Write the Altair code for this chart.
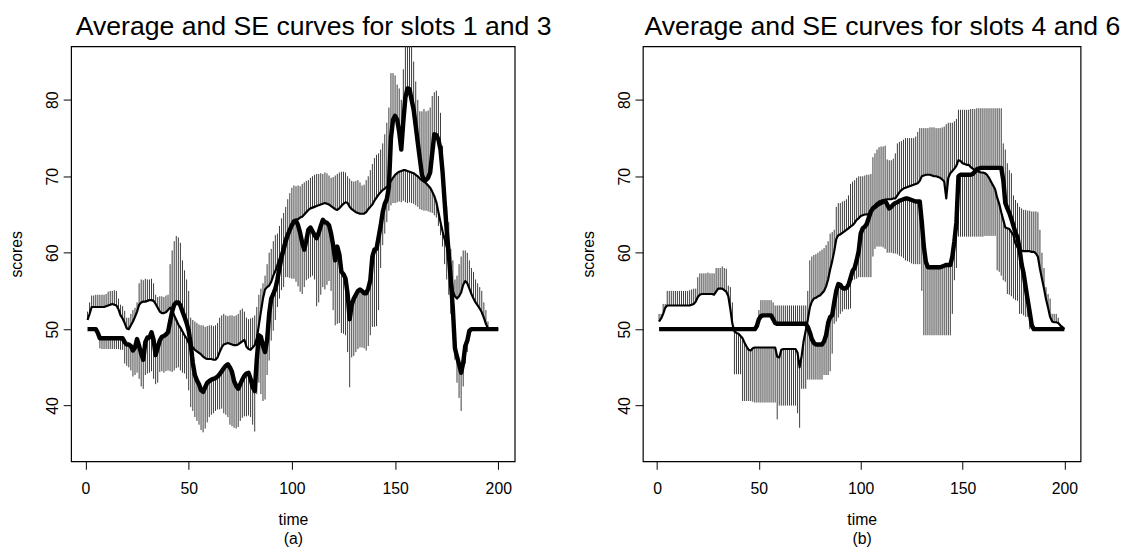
import altair as alt
import pandas as pd

T = list(range(1, 201))

# ---------------- panel (a): slots 1 (thin) and 3 (thick) ----------------
a_thin = [
    51.2, 52.0, 52.9, 52.9, 52.9, 52.9, 52.9, 52.9, 52.9, 53.0,
    53.1, 53.2, 53.3, 53.2, 53.1, 52.6, 51.8, 51.4, 50.8, 50.1,
    50.0, 50.5, 51.0, 51.6, 52.3, 53.2, 53.5, 53.6, 53.6, 53.7,
    53.8, 53.8, 53.7, 53.3, 52.8, 52.3, 52.1, 52.1, 52.2, 52.5,
    52.8, 52.5, 51.8, 51.2, 50.6, 50.2, 49.7, 49.2, 48.8, 48.2,
    47.9, 47.6, 47.3, 47.1, 46.9, 46.7, 46.4, 46.2, 46.1, 46.1,
    46.1, 46.0, 46.0, 46.3, 47.0, 47.6, 48.0, 48.1, 48.2, 48.1,
    48.0, 47.9, 47.9, 48.0, 48.2, 48.4, 48.6, 47.7, 47.4, 47.3,
    47.6, 47.9, 48.8, 50.5, 52.3, 54.0, 55.2, 55.5, 55.7, 56.2,
    57.0, 57.6, 58.4, 59.2, 60.0, 61.0, 62.0, 62.6, 63.1, 63.5,
    63.9, 64.2, 64.4, 64.6, 64.7, 65.0, 65.3, 65.6, 65.8, 65.9,
    66.0, 66.1, 66.2, 66.3, 66.4, 66.5, 66.4, 66.3, 66.1, 65.9,
    65.7, 65.6, 65.8, 66.1, 66.4, 66.6, 66.5, 66.0, 65.7, 65.5,
    65.3, 65.2, 65.1, 65.1, 65.1, 65.3, 65.7, 66.0, 66.3, 66.8,
    67.2, 67.6, 67.9, 68.2, 68.4, 68.6, 68.9, 69.4, 69.8, 70.2,
    70.4, 70.6, 70.7, 70.8, 70.8, 70.7, 70.6, 70.5, 70.4, 70.2,
    70.0, 69.7, 69.5, 69.3, 69.1, 68.8, 68.5, 68.0, 67.4, 66.6,
    65.3, 64.0, 62.8, 61.8, 60.8, 59.4, 57.3, 55.0, 54.3, 54.0,
    54.3, 54.8, 55.8, 56.3, 56.0, 55.3, 54.6, 54.0, 53.5, 53.1,
    52.7, 52.2, 51.5, 50.7, 50.1, 50.0, 50.0, 50.0, 50.0, 50.0,
]
a_thick = [
    50.0, 50.0, 50.0, 50.0, 50.0, 49.5, 48.8, 48.8, 48.8, 48.8,
    48.8, 48.8, 48.8, 48.8, 48.8, 48.8, 48.8, 48.8, 48.3, 48.0,
    48.0, 47.8, 47.2, 47.6, 48.7, 47.8, 46.8, 46.0, 48.3, 48.9,
    48.9, 49.6, 48.6, 46.6, 47.6, 48.5, 49.0, 49.1, 49.3, 49.6,
    51.0, 52.3, 53.2, 53.5, 53.5, 53.1, 52.3, 51.6, 50.8, 49.8,
    48.0, 45.6, 44.0, 43.3, 42.8, 42.0, 41.8, 42.4, 43.0, 43.2,
    43.4, 43.5, 43.6, 43.8, 44.1, 44.5, 44.9, 45.2, 45.4, 45.0,
    44.4, 43.2, 42.6, 42.2, 42.8, 43.4, 43.9, 44.2, 44.3, 43.5,
    42.4, 41.9, 46.0, 49.2, 49.0, 47.8, 47.0, 48.6, 52.0, 54.0,
    54.6, 55.3, 56.5, 58.0, 59.4, 60.4, 61.5, 62.3, 63.0, 63.6,
    64.1, 64.2, 63.6, 62.6, 61.3, 60.4, 61.6, 63.0, 63.3, 62.8,
    62.3, 61.9, 62.6, 63.5, 64.3, 64.0, 63.9, 63.6, 62.5, 61.0,
    59.0, 60.8, 59.8, 57.5, 57.2, 56.6, 54.6, 51.3, 53.2, 54.0,
    54.5, 55.0, 55.2, 55.0, 54.7, 54.7, 55.3, 56.4, 59.5, 60.4,
    60.5, 62.0, 63.5, 65.3, 66.4, 67.0, 68.6, 75.0, 77.4, 77.9,
    77.4, 75.8, 73.5, 77.2, 80.3, 81.5, 81.4, 80.0, 78.7, 76.6,
    74.4, 72.3, 70.2, 69.5, 69.5, 69.8, 70.5, 73.0, 75.5, 75.4,
    74.8, 73.5, 70.6, 66.7, 63.0, 59.9, 56.4, 52.6, 47.5, 46.4,
    45.4, 44.3, 45.6, 47.8, 48.5, 49.8, 50.0, 50.0, 50.0, 50.0,
    50.0, 50.0, 50.0, 50.0, 50.0, 50.0, 50.0, 50.0, 50.0, 50.0,
]
a_top = [
    52.3, 53.5, 54.4, 54.4, 54.5, 54.5, 54.5, 54.5, 54.5, 54.6,
    54.9, 55.0, 55.0, 55.1, 55.0, 54.0, 53.2, 53.0, 52.4, 51.5,
    51.5, 52.0, 52.5, 52.8, 53.5, 56.0, 56.5, 56.4, 56.6, 56.5,
    56.5, 56.6, 56.0, 54.5, 54.2, 54.3, 54.3, 54.2, 54.4, 54.5,
    58.5, 60.3, 61.5, 62.2, 62.0, 61.3, 59.0, 57.7, 56.5, 55.0,
    51.5, 51.2, 51.0, 50.8, 50.6, 50.5, 50.5, 50.3, 50.4, 50.5,
    50.5, 50.4, 50.5, 50.8, 51.5, 51.8, 52.0, 51.8, 51.7, 51.8,
    51.8, 51.7, 51.8, 52.0, 52.5, 52.7, 52.3, 51.5, 51.3, 51.4,
    51.5, 51.8, 52.9, 54.5, 55.3, 56.0, 57.0, 58.5, 60.0, 60.5,
    61.5, 62.3, 62.5, 63.5, 64.5, 65.2, 66.0, 67.0, 67.8, 68.5,
    68.8, 68.7, 68.8, 68.7, 69.0, 69.2, 69.4, 69.5, 69.8, 70.0,
    70.2, 70.3, 70.3, 70.4, 70.3, 70.5, 70.4, 70.1, 69.8, 69.9,
    70.1, 70.3, 70.5, 70.6, 70.6, 70.5, 70.0, 69.7, 69.4, 69.3,
    69.4, 69.5, 69.2, 68.8, 68.9, 69.5, 70.0, 70.8, 71.6, 72.4,
    72.8, 73.0, 73.5, 74.3, 75.5, 77.0, 79.0, 83.5, 83.5, 83.2,
    82.0, 81.5, 80.0, 84.0, 87.5, 88.0, 88.0, 87.0, 85.0, 82.4,
    80.0, 78.5, 78.5, 78.8, 78.5, 78.6, 79.0, 80.5, 81.0, 81.2,
    80.5, 78.3, 74.0, 68.0, 66.0, 64.0, 60.5, 59.0, 56.5, 57.0,
    58.5, 59.5, 60.3, 60.3, 60.0, 59.0, 58.0, 57.5, 56.5, 56.0,
    55.5, 55.0, 53.5, 52.5, 51.0, 50.0, 50.0, 50.0, 50.0, 50.0,
]
a_bot = [
    50.0, 50.0, 50.0, 50.0, 50.0, 49.0, 47.5, 47.4, 47.4, 47.4,
    47.4, 47.4, 47.4, 47.4, 47.4, 47.4, 47.3, 47.3, 45.5, 45.2,
    45.0, 44.6, 43.8, 44.0, 44.3, 43.5, 42.5, 42.2, 44.0, 44.2,
    44.3, 44.5, 43.5, 42.8, 43.0, 44.4, 44.5, 44.3, 44.5, 44.6,
    44.5, 44.4, 44.6, 44.9, 45.0, 44.6, 44.3, 44.2, 43.5, 42.0,
    39.8, 39.3, 38.5, 38.0, 37.5, 36.8, 36.5, 37.0, 37.8, 38.5,
    38.8, 39.0, 39.3, 39.5, 39.5, 39.6, 39.0, 38.8, 38.5, 37.5,
    37.3, 37.1, 37.0, 37.2, 38.0, 38.4, 38.6, 38.6, 38.7, 38.5,
    37.5, 36.6, 41.5, 43.0, 41.5, 40.6, 40.8, 44.0, 45.9, 48.5,
    49.8, 51.2, 52.9, 54.0, 55.1, 55.5, 56.8, 56.8, 56.7, 56.6,
    56.6, 56.2, 55.6, 54.9, 54.6, 55.5, 56.4, 56.6, 56.8, 57.0,
    56.5, 53.0, 53.5, 54.5, 55.5, 55.2, 55.8, 56.3, 55.0, 52.5,
    50.5, 50.7, 50.8, 49.5, 49.4, 49.2, 47.0, 42.4, 46.3, 46.5,
    47.0, 47.4, 47.6, 47.6, 47.5, 47.2, 47.8, 49.2, 50.3, 50.3,
    50.4, 52.5, 58.0, 61.0, 62.5, 64.0, 65.5, 66.2, 66.5, 66.5,
    66.6, 66.7, 66.6, 66.8, 66.6, 66.5, 66.6, 66.5, 66.4, 66.2,
    66.0, 65.7, 65.6, 65.5, 65.5, 65.4, 65.3, 65.2, 64.9, 64.6,
    63.5, 62.3, 60.8, 58.5, 56.5, 54.5, 52.0, 49.5, 46.0, 43.0,
    41.0, 39.3, 42.5, 45.5, 47.0, 49.2, 50.0, 50.0, 50.0, 50.0,
    50.0, 50.0, 50.0, 50.0, 50.0, 50.0, 50.0, 50.0, 50.0, 50.0,
]

# ---------------- panel (b): slots 4 (thin) and 6 (thick) ----------------
b_thin = [
    51.0, 51.4, 52.0, 52.8, 53.1, 53.1, 53.1, 53.1, 53.1, 53.1,
    53.1, 53.1, 53.1, 53.1, 53.1, 53.1, 53.2, 53.3, 53.6, 54.2,
    54.5, 54.6, 54.6, 54.6, 54.6, 54.6, 54.6, 54.5, 54.9, 55.3,
    55.3, 55.3, 55.1, 54.9, 54.3, 52.6, 50.7, 49.7, 49.5, 49.4,
    49.1, 48.8, 48.2, 47.7, 47.3, 47.2, 47.5, 47.6, 47.6, 47.6,
    47.6, 47.6, 47.6, 47.6, 47.6, 47.6, 47.6, 47.6, 46.4, 46.3,
    47.3, 47.4, 47.4, 47.4, 47.4, 47.4, 47.4, 47.4, 46.9, 45.0,
    46.5, 48.5, 49.8, 51.2, 52.8, 53.6, 54.0, 54.1, 54.3, 54.4,
    54.7, 55.0, 55.6, 56.5, 57.8, 58.9, 60.2, 61.8, 62.3, 62.4,
    62.6, 62.8, 63.0, 63.2, 63.4, 63.6, 63.9, 64.3, 64.5, 64.8,
    64.9, 65.0, 65.0, 65.1, 65.3, 65.7, 66.2, 66.5, 66.7, 66.8,
    66.9, 66.9, 67.0, 67.0, 67.0, 67.1, 67.1, 67.5, 67.9, 68.2,
    68.4, 68.5, 68.6, 68.7, 68.8, 68.9, 69.0, 69.1, 69.4, 70.0,
    70.1, 70.2, 70.2, 70.2, 70.1, 70.0, 70.0, 69.9, 69.8, 69.6,
    69.3, 67.1, 69.8, 70.4, 70.7, 71.0, 71.4, 72.1, 72.0, 71.7,
    71.6, 71.5, 71.5, 71.2, 71.0, 70.8, 70.7, 70.6, 70.5, 70.5,
    70.4, 70.2, 69.8, 69.3, 68.8, 68.3, 67.2, 66.4, 65.3, 64.3,
    63.3, 63.2, 63.1, 62.7, 62.3, 61.2, 60.7, 60.3, 60.3, 60.2,
    60.2, 60.2, 60.2, 60.1, 60.1, 59.9, 59.5, 57.9, 56.6, 55.3,
    53.9, 52.8, 51.6, 51.0, 50.9, 50.9, 50.8, 50.5, 50.3, 50.0,
]
b_thick = [
    50.0, 50.0, 50.0, 50.0, 50.0, 50.0, 50.0, 50.0, 50.0, 50.0,
    50.0, 50.0, 50.0, 50.0, 50.0, 50.0, 50.0, 50.0, 50.0, 50.0,
    50.0, 50.0, 50.0, 50.0, 50.0, 50.0, 50.0, 50.0, 50.0, 50.0,
    50.0, 50.0, 50.0, 50.0, 50.0, 50.0, 50.0, 50.0, 50.0, 50.0,
    50.0, 50.0, 50.0, 50.0, 50.0, 50.0, 50.0, 50.0, 50.4, 51.3,
    51.7, 51.8, 51.8, 51.8, 51.8, 51.8, 51.3, 50.8, 50.7, 50.7,
    50.7, 50.7, 50.7, 50.7, 50.7, 50.7, 50.7, 50.7, 50.7, 50.7,
    50.7, 50.7, 50.7, 50.3, 49.6, 48.7, 48.2, 48.0, 48.0, 48.0,
    48.0, 48.4, 49.2, 50.8, 51.6, 51.8, 53.5, 55.0, 55.9, 55.8,
    55.4, 55.3, 55.4, 55.8, 56.7, 57.6, 58.0, 59.0, 60.2, 62.5,
    63.2, 63.4, 63.8, 64.6, 65.4, 65.8, 66.0, 66.2, 66.4, 66.5,
    66.7, 66.8, 66.3, 65.8, 66.0, 66.3, 66.5, 66.6, 66.8, 66.9,
    67.0, 67.1, 67.1, 67.0, 66.9, 66.8, 66.7, 66.7, 66.7, 64.0,
    60.8, 58.8, 58.1, 58.1, 58.1, 58.1, 58.1, 58.1, 58.1, 58.2,
    58.3, 58.4, 58.4, 58.4, 59.5, 61.5, 64.0, 70.0, 70.2, 70.2,
    70.2, 70.2, 70.2, 70.2, 70.3, 70.6, 70.9, 71.0, 71.1, 71.1,
    71.1, 71.1, 71.1, 71.1, 71.1, 71.1, 71.1, 71.1, 71.1, 69.5,
    66.5, 65.8, 65.2, 64.4, 63.5, 62.6, 62.0, 60.5, 58.5, 57.3,
    55.5, 53.8, 52.2, 50.5, 50.0, 50.0, 50.0, 50.0, 50.0, 50.0,
    50.0, 50.0, 50.0, 50.0, 50.0, 50.0, 50.0, 50.0, 50.0, 50.0,
]
b_top = [
    52.0, 52.0, 53.3, 53.3, 55.0, 55.0, 55.0, 55.0, 55.0, 55.0,
    55.0, 55.0, 55.0, 55.0, 55.0, 55.1, 55.2, 55.3, 55.3, 56.8,
    57.3, 57.3, 57.3, 57.3, 57.4, 57.3, 57.3, 57.3, 58.0, 58.0,
    58.0, 58.2, 58.0, 57.9, 55.7, 55.5, 53.5, 50.0, 50.0, 50.0,
    50.0, 50.0, 50.0, 50.0, 50.0, 50.0, 50.0, 50.0, 51.0, 52.5,
    53.8, 53.8, 53.8, 53.8, 53.8, 53.8, 53.5, 53.1, 53.1, 53.1,
    53.1, 53.1, 53.1, 53.1, 53.1, 53.1, 53.1, 53.1, 53.1, 53.1,
    53.1, 53.1, 53.1, 55.0, 59.0, 59.5, 59.7, 59.8, 60.0, 60.2,
    60.4, 60.6, 61.0, 61.5, 62.5, 62.7, 63.0, 66.0, 66.5, 66.5,
    66.7, 66.8, 67.0, 67.5, 69.0, 69.3, 69.5, 69.8, 70.0, 70.0,
    70.0, 70.1, 70.2, 70.2, 70.3, 72.5, 73.0, 73.5, 73.8, 73.9,
    73.9, 74.0, 72.2, 72.1, 72.1, 72.3, 73.0, 74.3, 74.5, 74.6,
    74.8, 75.0, 75.0, 75.0, 75.0, 75.0, 75.2, 75.8, 76.3, 76.3,
    76.3, 76.3, 76.3, 76.4, 76.4, 76.4, 76.3, 76.3, 76.3, 76.4,
    76.5, 76.8, 77.0, 77.0, 77.0, 77.2, 77.5, 78.7, 78.7, 78.7,
    78.7, 78.7, 78.7, 78.8, 78.8, 78.8, 78.9, 78.9, 78.9, 78.9,
    78.9, 78.9, 78.9, 78.9, 78.9, 78.9, 78.9, 78.9, 78.9, 74.3,
    73.5, 71.7, 70.8, 70.4, 67.5, 66.9, 66.5, 66.0, 65.8, 65.6,
    65.6, 65.5, 65.5, 65.4, 65.4, 65.4, 65.3, 63.0, 60.0, 58.0,
    55.5, 54.6, 54.0, 52.0, 52.0, 52.0, 51.5, 50.0, 50.0, 50.0,
]
b_bot = [
    50.0, 50.0, 50.0, 50.0, 50.0, 50.0, 50.0, 50.0, 50.0, 50.0,
    50.0, 50.0, 50.0, 50.0, 50.0, 50.0, 50.0, 50.0, 50.0, 50.0,
    50.0, 50.0, 50.0, 50.0, 50.0, 50.0, 50.0, 50.0, 50.0, 50.0,
    50.0, 50.0, 50.0, 50.0, 50.0, 50.0, 50.0, 44.1, 44.1, 44.1,
    44.1, 40.6, 40.6, 40.6, 40.6, 40.6, 40.5, 40.4, 40.4, 40.4,
    40.4, 40.4, 40.4, 40.4, 40.4, 40.4, 40.4, 40.4, 38.2, 40.0,
    40.0, 40.0, 40.0, 40.0, 40.0, 40.0, 40.0, 40.0, 39.0, 37.1,
    42.2, 42.2, 42.2, 43.4, 43.4, 43.4, 43.4, 43.4, 43.4, 43.4,
    43.4, 44.0, 44.0, 44.0, 44.5, 46.8, 50.7, 51.0, 51.5, 52.0,
    52.3, 52.6, 52.6, 52.6, 52.7, 56.4, 56.5, 56.6, 56.8, 56.8,
    56.8, 56.8, 56.8, 56.8, 56.8, 59.5, 60.5, 60.8, 60.8, 60.8,
    60.7, 60.5, 60.0, 60.0, 60.0, 59.9, 59.9, 59.8, 59.6, 59.5,
    59.3, 59.0, 58.9, 58.8, 58.6, 58.5, 58.5, 58.5, 58.5, 55.0,
    49.2, 49.2, 49.2, 49.2, 49.2, 49.2, 49.2, 49.2, 49.2, 49.2,
    49.2, 49.2, 49.2, 49.2, 52.0, 56.4, 58.0, 62.1, 62.1, 62.1,
    62.1, 62.1, 62.1, 62.1, 62.1, 62.1, 62.1, 62.1, 62.1, 62.1,
    62.2, 62.2, 62.2, 62.2, 62.2, 62.2, 57.7, 57.5, 57.0, 56.4,
    56.2, 54.6, 54.5, 54.3, 54.0, 53.8, 53.7, 52.0, 52.0, 51.8,
    51.6, 51.6, 50.0, 50.0, 50.0, 50.0, 50.0, 50.0, 50.0, 50.0,
    50.0, 50.0, 50.0, 50.0, 50.0, 50.0, 50.0, 50.0, 50.0, 50.0,
]

X_TICKS = [0, 50, 100, 150, 200]
Y_TICKS = [40, 50, 60, 70, 80]
FONT = "Liberation Sans"


def panel(thin, thick, top, bot, title, sub, width):
    df = pd.DataFrame({
        "t": T,
        "thin": thin,
        "thick": thick,
        "hs": [max(a, b) for a, b in zip(thin, thick)],
        "he": top,
        "ls": [min(a, b) for a, b in zip(thin, thick)],
        "le": bot,
    })
    xs = alt.Scale(domain=[-6.96, 207.96], nice=False, zero=False)
    ys = alt.Scale(domain=[32.7, 87.0], nice=False, zero=False)
    xax = alt.Axis(values=X_TICKS, title=["time", sub], grid=False, domain=False,
                   tickSize=8, tickColor="black", labelFontSize=16, titleFontSize=16,
                   labelFont=FONT, titleFont=FONT, titleFontWeight="normal",
                   labelColor="black", titleColor="black", labelPadding=12,
                   titlePadding=15, titleLineHeight=19, labelFlush=False)
    yax = alt.Axis(values=Y_TICKS, title="scores", grid=False, domain=False,
                   tickSize=8, tickColor="black", labelFontSize=16, titleFontSize=16,
                   labelFont=FONT, titleFont=FONT, titleFontWeight="normal",
                   labelColor="black", titleColor="black", labelAngle=270,
                   labelAlign="center", labelBaseline="bottom", labelPadding=3,
                   titlePadding=20, labelFlush=False)
    base = alt.Chart(df)
    x = alt.X("t:Q", scale=xs, axis=xax)
    up = base.mark_rule(color="#3a3a3a", strokeWidth=1, clip=True).encode(
        x=x, y=alt.Y("hs:Q", scale=ys, axis=yax), y2="he:Q")
    lo = base.mark_rule(color="#3a3a3a", strokeWidth=1, clip=True).encode(
        x="t:Q", y="ls:Q", y2="le:Q")
    l1 = base.mark_line(color="black", strokeWidth=2.2, clip=True,
                        strokeJoin="round").encode(x="t:Q", y="thin:Q")
    l2 = base.mark_line(color="black", strokeWidth=4.5, clip=True,
                        strokeJoin="round").encode(x="t:Q", y="thick:Q")
    return alt.layer(up, lo, l1, l2).properties(
        width=width, height=421,
        title=alt.Title(title, fontSize=27, font=FONT, fontWeight="normal",
                        color="black", frame="group", anchor="middle",
                        offset=6, dx=21),
    )


left = panel(a_thin, a_thick, a_top, a_bot,
             "Average and SE curves for slots 1 and 3", "(a)", 450)
right = panel(b_thin, b_thick, b_top, b_bot,
              "Average and SE curves for slots 4 and 6", "(b)", 444)

chart = alt.hconcat(left, right, spacing=28).properties(
    padding={"left": 0, "top": 0, "right": 0, "bottom": 0},
    background="white",
).configure_view(stroke="black", strokeWidth=1.2)

chart.save("out.html", embed_options={"renderer": "svg", "actions": False})
